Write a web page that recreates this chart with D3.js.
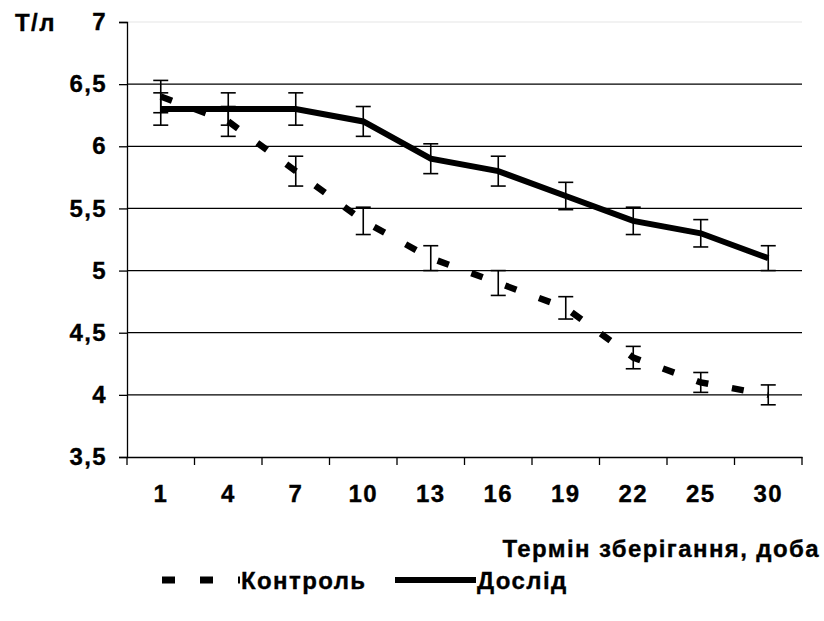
<!DOCTYPE html>
<html>
<head>
<meta charset="utf-8">
<script src="https://cdn.jsdelivr.net/npm/d3@7"></script>
<style>
  body { margin: 0; background: #fff; }
  text { font-family: "Liberation Sans", Arial, sans-serif; font-weight: bold; fill: #000; letter-spacing: 1.4px; stroke: #000; stroke-width: 0.35px; }
</style>
</head>
<body>
<svg id="chart" width="824" height="621"></svg>
<script>
const days = ['1', '4', '7', '10', '13', '16', '19', '22', '25', '30'];
const control = [6.4, 6.2, 5.8, 5.4, 5.1, 4.9, 4.7, 4.3, 4.1, 4.0];
const controlErr = [0.13, 0.12, 0.12, 0.11, 0.10, 0.10, 0.09, 0.09, 0.08, 0.08];
const trial = [6.3, 6.3, 6.3, 6.2, 5.9, 5.8, 5.6, 5.4, 5.3, 5.1];
const trialErr = [0.13, 0.13, 0.13, 0.12, 0.12, 0.12, 0.11, 0.11, 0.11, 0.10];
const yTicks = [3.5, 4, 4.5, 5, 5.5, 6, 6.5, 7];

const plotLeft = 127, plotRight = 802, plotTop = 22, plotBottom = 457;
const fontSize = 24;

const svg = d3.select('#chart');

const x = d3.scaleBand()
  .domain(days)
  .range([plotLeft, plotRight])
  .padding(0);

const y = d3.scaleLinear()
  .domain([3.5, 7])
  .range([plotBottom, plotTop]);

const fmt = d => String(d).replace('.', ',');

// gridlines
svg.append('g')
  .selectAll('line')
  .data(yTicks.filter(d => d > 3.5))
  .enter()
  .append('line')
  .attr('x1', plotLeft)
  .attr('x2', plotRight)
  .attr('y1', d => y(d))
  .attr('y2', d => y(d))
  .attr('stroke', d => d === 7 ? '#eee' : '#000')
  .attr('stroke-width', 1.3);

// y axis
const yAxis = svg.append('g')
  .attr('transform', 'translate(' + plotLeft + ',0)')
  .call(d3.axisLeft(y).tickValues(yTicks).tickFormat(fmt).tickSize(8).tickPadding(12));
yAxis.select('.domain').attr('stroke', '#000').attr('stroke-width', 1.3);
yAxis.selectAll('.tick line').attr('stroke-width', 1.3);
yAxis.selectAll('text').style('font-size', fontSize + 'px').attr('font-family', null);

// x axis
const xAxis = svg.append('g')
  .attr('transform', 'translate(0,' + plotBottom + ')')
  .call(d3.axisBottom(x).tickSize(0).tickPadding(28));
xAxis.select('.domain').attr('stroke', '#000').attr('stroke-width', 1.3);
xAxis.selectAll('text').style('font-size', fontSize + 'px').attr('font-family', null);

// x category separators
const edges = days.map(d => x(d)).concat([plotRight]);
svg.append('g')
  .selectAll('line')
  .data(edges)
  .enter()
  .append('line')
  .attr('x1', d => d)
  .attr('x2', d => d)
  .attr('y1', plotBottom)
  .attr('y2', plotBottom + 8)
  .attr('stroke', '#000')
  .attr('stroke-width', 1.3);

const cx = d => x(d) + x.bandwidth() / 2;

const line = d3.line()
  .x((d, i) => cx(days[i]))
  .y(d => y(d));

// error bars
const addErr = (vals, errs) => {
  const g = svg.append('g').attr('stroke', '#000').attr('stroke-width', 1.6);
  vals.forEach((v, i) => {
    const px = cx(days[i]);
    g.append('line').attr('x1', px).attr('x2', px).attr('y1', y(v - errs[i])).attr('y2', y(v + errs[i]));
    g.append('line').attr('x1', px - 7.5).attr('x2', px + 7.5).attr('y1', y(v - errs[i])).attr('y2', y(v - errs[i]));
    g.append('line').attr('x1', px - 7.5).attr('x2', px + 7.5).attr('y1', y(v + errs[i])).attr('y2', y(v + errs[i]));
  });
};

addErr(trial, trialErr);
addErr(control, controlErr);

svg.append('path')
  .datum(control)
  .attr('d', line)
  .attr('fill', 'none')
  .attr('stroke', '#000')
  .attr('stroke-width', 6.5)
  .attr('stroke-dasharray', '12,24');

svg.append('path')
  .datum(trial)
  .attr('d', line)
  .attr('fill', 'none')
  .attr('stroke', '#000')
  .attr('stroke-width', 6);

// axis titles
svg.append('text')
  .attr('x', 15)
  .attr('y', 31)
  .style('font-size', fontSize + 'px')
  .text('Т/л');

svg.append('text')
  .attr('x', 820)
  .attr('y', 557)
  .attr('text-anchor', 'end')
  .style('font-size', fontSize + 'px')
  .text('Термін зберігання, доба');

// legend
const ly = 580;
svg.append('line')
  .attr('x1', 155).attr('x2', 240)
  .attr('y1', ly).attr('y2', ly)
  .attr('stroke', '#000').attr('stroke-width', 7)
  .attr('stroke-dasharray', '13,25')
  .attr('stroke-dashoffset', 31);
svg.append('text')
  .attr('x', 241).attr('y', ly + 9)
  .style('font-size', fontSize + 'px')
  .text('Контроль');
svg.append('line')
  .attr('x1', 395).attr('x2', 476)
  .attr('y1', ly).attr('y2', ly)
  .attr('stroke', '#000').attr('stroke-width', 6);
svg.append('text')
  .attr('x', 477).attr('y', ly + 9)
  .style('font-size', fontSize + 'px')
  .text('Дослід');
</script>
</body>
</html>
